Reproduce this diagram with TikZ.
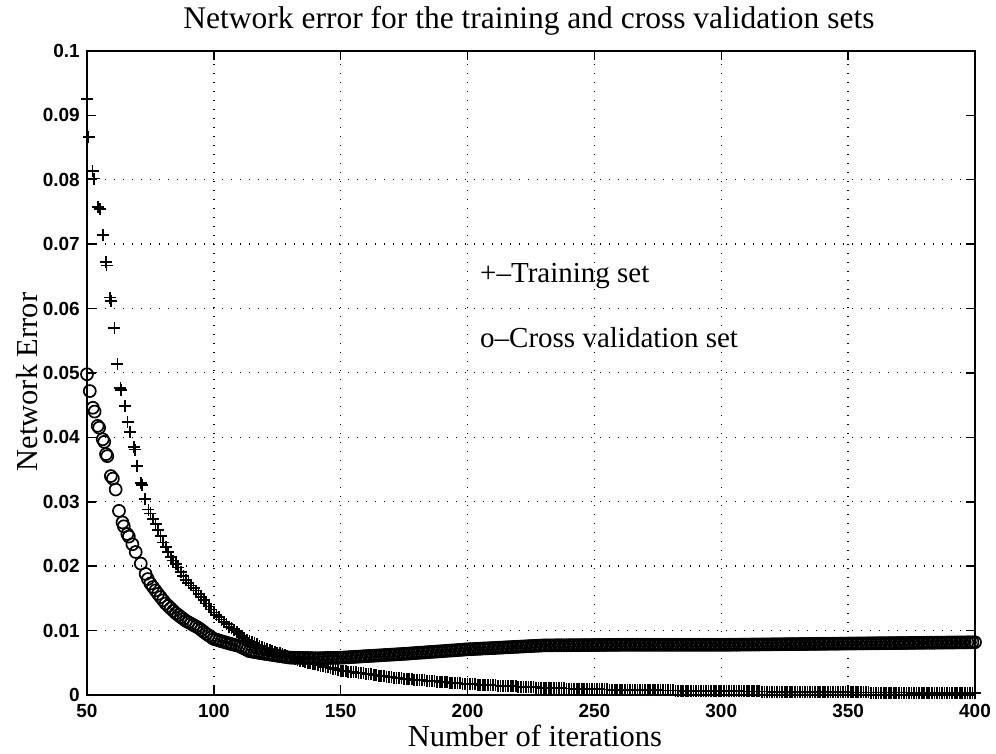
\documentclass[tikz,border=0pt]{standalone}
\usepackage{fontspec}
\setmainfont{Liberation Serif}
\setsansfont{Liberation Sans}
\begin{document}
\begin{tikzpicture}[x=1pt,y=1pt,
  axisline/.style={line width=1.6pt, line cap=rect},
  gridline/.style={line width=1.4pt, dash pattern=on 1.4pt off 7.6pt},
  tickline/.style={line width=1.4pt},
  trainmark/.style={line width=1.7pt},
  cvmark/.style={line width=1.7pt},
  ticklabel/.style={font=\sffamily\bfseries\fontsize{19}{22}\selectfont, inner sep=0pt},
  titlefont/.style={font=\fontsize{31.5}{36}\selectfont, inner sep=0pt},
  labelfont/.style={font=\fontsize{30.5}{34}\selectfont, inner sep=0pt},
  legendfont/.style={font=\fontsize{29}{33}\selectfont, inner sep=0pt}]
\useasboundingbox (0,0) rectangle (996,753);

% titles and axis labels
\node[titlefont, anchor=base] (title) at (529,724) {Network error for the training and cross validation sets};
\node[labelfont, anchor=base] (xlabel) at (535,7) {Number of iterations};
\node[labelfont, anchor=base, rotate=90] (ylabel) at (37,371) {Network Error};

% data area: x in iterations, y in error units
\begin{scope}[shift={(-39.855pt,58pt)}, x=2.5371pt, y=6440pt]
  % dotted grid
  \foreach \gx in {100,150,...,350}
    \draw[gridline] (\gx,0) -- (\gx,0.1);
  \foreach \gy in {0.01,0.02,...,0.09}
    \draw[gridline] (50,\gy) -- (400,\gy);

  % ticks on all four sides, pointing inwards
  \foreach \gx in {50,100,...,400} {
    \draw[tickline] (\gx,0) -- ++(0,9pt);
    \draw[tickline] (\gx,0.1) -- ++(0,-9pt);
    \node[ticklabel, anchor=north] (xt\gx) at ([yshift=-9pt]\gx,0) {\gx};
  }
  \foreach \gy/\lab in {0/0,0.01/0.01,0.02/0.02,0.03/0.03,0.04/0.04,0.05/0.05,0.06/0.06,0.07/0.07,0.08/0.08,0.09/0.09,0.1/0.1} {
    \draw[tickline] (50,\gy) -- ++(9pt,0);
    \draw[tickline] (400,\gy) -- ++(-9pt,0);
    \node[ticklabel, anchor=east] at ([xshift=-7pt]50,\gy) {\lab};
  }

  % training set: sparse early samples
  \foreach \xx/\yy in {50/0.0925,50.6/0.0866,52.2/0.0814,52.8/0.0802,54.3/0.0758,55/0.0755,
      56.2/0.0714,57.4/0.0672,57.7/0.0667,59.2/0.0617,59.5/0.0612,60.8/0.0570,62/0.0514,
      63.2/0.0477,63.5/0.0474,65.1/0.0449,66/0.0424,67/0.0408,68.5/0.0385,68.8/0.0381,
      69.8/0.0355,71.3/0.0329,71.6/0.0326,72.9/0.0304,74.2/0.0288}
    \draw[trainmark] (\xx,\yy) +(-6pt,0) -- +(6pt,0) +(0,-6pt) -- +(0,6pt);
  % training set: one sample per iteration
  \foreach \xa/\ya/\xb/\yb in {75/0.0282/77/0.0265, 77/0.0265/80/0.0237, 80/0.0237/83/0.0214,
      83/0.0214/86/0.0198, 86/0.0198/89/0.0178, 89/0.0178/93/0.0162, 93/0.0162/97/0.0142,
      97/0.0142/100/0.0128, 100/0.0128/106/0.0106, 106/0.0106/113/0.0086, 113/0.0086/120/0.0073,
      120/0.0073/127/0.0063, 127/0.0063/135/0.0052, 135/0.0052/150/0.0038, 150/0.0038/175/0.0025,
      175/0.0025/200/0.0017, 200/0.0017/230/0.0011, 230/0.0011/260/0.0008, 260/0.0008/300/0.0006,
      300/0.0006/350/0.0004, 350/0.0004/400/0.0003} {
    \pgfmathtruncatemacro\nlast{\xb-\xa-1}
    \foreach \k in {0,...,\nlast} {
      \pgfmathsetmacro\xx{\xa+\k}
      \pgfmathsetmacro\yy{\ya+(\yb-\ya)*\k/(\xb-\xa)}
      \draw[trainmark] (\xx,\yy) +(-6pt,0) -- +(6pt,0) +(0,-6pt) -- +(0,6pt);
    }
  }
  \draw[trainmark] (400,0.0003) +(-6pt,0) -- +(6pt,0) +(0,-6pt) -- +(0,6pt);

  % cross validation set: sparse early samples
  \foreach \xx/\yy in {50/0.0498,51.1/0.0472,52.3/0.0446,53/0.0440,54.2/0.0418,54.8/0.0415,
      56.2/0.0397,56.8/0.0393,57.5/0.0374,58/0.0371,59.4/0.0340,60.2/0.0336,61.3/0.0319,
      62.6/0.0286,64/0.0268,64.5/0.0262,65.9/0.0250,66.5/0.0246,67.9/0.0234,69.2/0.0222,
      71.2/0.0204,73.1/0.0188}
    \draw[cvmark] (\xx,\yy) circle[radius=6pt];
  % cross validation set: one sample per iteration
  \foreach \xa/\ya/\xb/\yb in {74/0.0180/75/0.0173, 75/0.0173/78/0.0157, 78/0.0157/81/0.0142,
      81/0.0142/85/0.0127, 85/0.0127/89/0.0115, 89/0.0115/94/0.0104, 94/0.0104/97/0.0095,
      97/0.0095/100/0.0087, 100/0.0087/106/0.0080, 106/0.0080/110/0.0076, 110/0.0076/114/0.0068,
      114/0.0068/120/0.0064, 120/0.0064/130/0.0058, 130/0.0058/140/0.0057, 140/0.0057/150/0.0058,
      150/0.0058/175/0.0064, 175/0.0064/200/0.0071, 200/0.0071/230/0.0077, 230/0.0077/260/0.0078,
      260/0.0078/300/0.0078, 300/0.0078/350/0.0080, 350/0.0080/400/0.0082} {
    \pgfmathtruncatemacro\nlast{\xb-\xa-1}
    \foreach \k in {0,...,\nlast} {
      \pgfmathsetmacro\xx{\xa+\k}
      \pgfmathsetmacro\yy{\ya+(\yb-\ya)*\k/(\xb-\xa)}
      \draw[cvmark] (\xx,\yy) circle[radius=6pt];
    }
  }
  \draw[cvmark] (400,0.0082) circle[radius=6pt];

  % axes box
  \draw[axisline] (50,0) rectangle (400,0.1);
\end{scope}

% legend text
\node[legendfont, anchor=base west] (legtrain) at (480,470) {+--Training set};
\node[legendfont, anchor=base west] (legcv) at (480,405) {o--Cross validation set};
\end{tikzpicture}
\end{document}
